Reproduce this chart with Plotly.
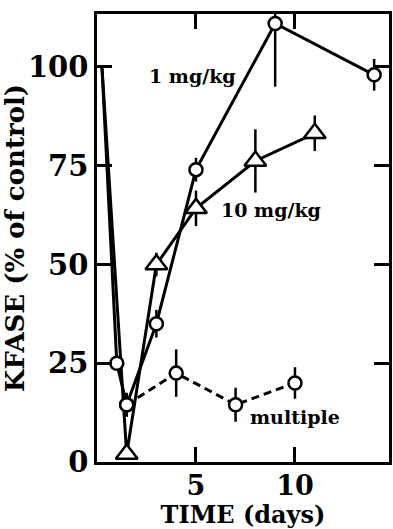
import plotly.graph_objects as go

# KFASE activity (% of control) after dosing, by day
days_1mg = [0.25, 1, 1.5, 3, 5, 9, 14]
kfase_1mg = [100, 25, 14.5, 35, 74, 111, 98]
err_1mg = [0, 0, 3, 3.5, 3, 16, 4]

days_10mg = [0.25, 1.5, 3, 5, 8, 11]
kfase_10mg = [100, 2, 50, 64.2, 76.2, 83.2]
err_10mg = [0, 0, 3, 4.5, 8, 4.5]

days_mult = [1.5, 4, 7, 10]
kfase_mult = [14.5, 22.5, 14.5, 20]
err_mult = [3, 6, 4.3, 4]

x_ticks = [5, 10]
y_ticks = [0, 25, 50, 75, 100]

FONT = "DejaVu Serif"
INK = "black"

fig = go.Figure()

# connecting lines (the first point of each dose series carries no marker)
fig.add_trace(go.Scatter(x=days_1mg, y=kfase_1mg, mode="lines",
                         line=dict(color=INK, width=3), hoverinfo="skip"))
fig.add_trace(go.Scatter(x=days_10mg, y=kfase_10mg, mode="lines",
                         line=dict(color=INK, width=3), hoverinfo="skip"))
fig.add_trace(go.Scatter(x=days_mult, y=kfase_mult, mode="lines",
                         line=dict(color=INK, width=3, dash="8px,5px"), hoverinfo="skip"))

def marker_trace(xs, ys, errs, symbol, size):
    return go.Scatter(
        x=xs, y=ys, mode="markers",
        marker=dict(symbol=symbol, size=size, color="white",
                    line=dict(color=INK, width=2.5)),
        error_y=dict(type="data", array=errs, visible=True,
                     color=INK, thickness=2.5, width=0),
    )

fig.add_trace(marker_trace(days_1mg[1:], kfase_1mg[1:], err_1mg[1:], "circle", 13))
fig.add_trace(marker_trace(days_10mg[1:], kfase_10mg[1:], err_10mg[1:], "triangle-up", 19))
fig.add_trace(marker_trace(days_mult, kfase_mult, err_mult, "circle", 13))

label_font = dict(family=FONT, size=19, color=INK)
for txt, x, y in [("1 mg/kg", 4.8, 97.7), ("10 mg/kg", 8.8, 63.8), ("multiple", 10.0, 11.4)]:
    fig.add_annotation(x=x, y=y, text=f"<b>{txt}</b>", showarrow=False,
                       font=label_font, xanchor="center", yanchor="middle")

fig.update_layout(
    width=393, height=529,
    margin=dict(l=97, r=1, t=14, b=67),
    paper_bgcolor="white", plot_bgcolor="white",
    showlegend=False,
    font=dict(family=FONT, color=INK),
)

fig.update_xaxes(
    range=[0, 14.75], tickvals=x_ticks, ticktext=[f"<b>{v}</b>" for v in x_ticks],
    ticks="inside", ticklen=15, tickwidth=2.5, tickcolor=INK,
    showline=True, linewidth=2.5, linecolor=INK, mirror="ticks",
    showgrid=False, zeroline=False, ticklabelstandoff=-2,
    tickfont=dict(family=FONT, size=27, color=INK),
    title=dict(text="<b>TIME (days)</b>", font=dict(family=FONT, size=24, color=INK), standoff=0),
)
fig.update_yaxes(
    range=[0, 113.4], tickvals=y_ticks, ticktext=[f"<b>{v}</b>" for v in y_ticks],
    ticks="inside", ticklen=15, tickwidth=2.5, tickcolor=INK,
    showline=True, linewidth=2.5, linecolor=INK, mirror="ticks",
    showgrid=False, zeroline=False,
    tickfont=dict(family=FONT, size=29, color=INK),
    title=dict(text="<b>KFASE (% of control)</b>", font=dict(family=FONT, size=26, color=INK), standoff=1),
)

fig.write_html("out.html")
